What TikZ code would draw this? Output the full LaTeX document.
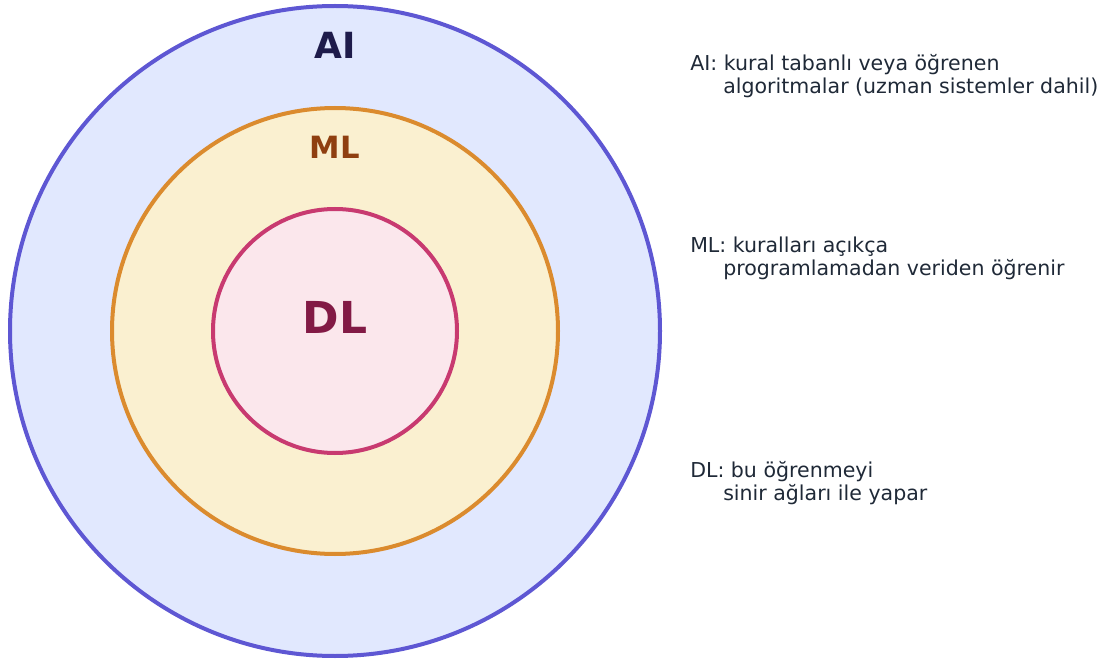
\documentclass[tikz,border=0pt]{standalone}
\usepackage{fontspec}
\setmainfont{DejaVu Sans}
\usepackage{tikz}
\definecolor{aifill}{HTML}{E1E8FE}
\definecolor{ailine}{HTML}{5E57D3}
\definecolor{aitext}{HTML}{1E1B4B}
\definecolor{mlfill}{HTML}{FAF0D0}
\definecolor{mlline}{HTML}{DB8B2E}
\definecolor{mltext}{HTML}{8F3F10}
\definecolor{dlfill}{HTML}{FBE7EC}
\definecolor{dlline}{HTML}{C83A70}
\definecolor{dltext}{HTML}{821A45}
\definecolor{notetext}{HTML}{1F2937}
\usetikzlibrary{positioning}

\begin{document}
\begin{tikzpicture}[x=0.75pt, y=-0.75pt,
      ring/.style={circle, draw, line width=3pt, inner sep=0pt},
      tag/.style={font=\bfseries, inner sep=0pt},
      note/.style={align=left, anchor=base west, inner sep=0pt, text=notetext,
        font=\fontsize{15.4pt}{17.25pt}\selectfont}]
    \useasboundingbox (0,0) rectangle (1104,663);
    \node[ring, fill=aifill, draw=ailine, minimum size=487.5pt] (ai) at (335,331) {};
    \node[ring, fill=mlfill, draw=mlline, minimum size=334.5pt] (ml) at (335,331) {};
    \node[ring, fill=dlfill, draw=dlline, minimum size=183pt] (dl) at (335,331) {};
    \node[tag, text=aitext, font=\fontsize{27pt}{30pt}\bfseries\selectfont] (ailbl) at (335,45) {AI};
    \node[tag, text=mltext, font=\fontsize{23pt}{26pt}\bfseries\selectfont] (mllbl) at (335,147) {ML};
    \node[tag, text=dltext, font=\fontsize{33pt}{36pt}\bfseries\selectfont] (dllbl) at (335,317) {DL};
    \node[note] (ainote) at (690,94) {AI: kural tabanlı veya öğrenen\\\hspace*{24.75pt}algoritmalar (uzman sistemler dahil)};
    \node[note] (mlnote) at (690,276) {ML: kuralları açıkça\\\hspace*{24.75pt}programlamadan veriden öğrenir};
    \node[note] (dlnote) at (690,500) {DL: bu öğrenmeyi\\\hspace*{24.75pt}sinir ağları ile yapar};
  \end{tikzpicture}
\end{document}
